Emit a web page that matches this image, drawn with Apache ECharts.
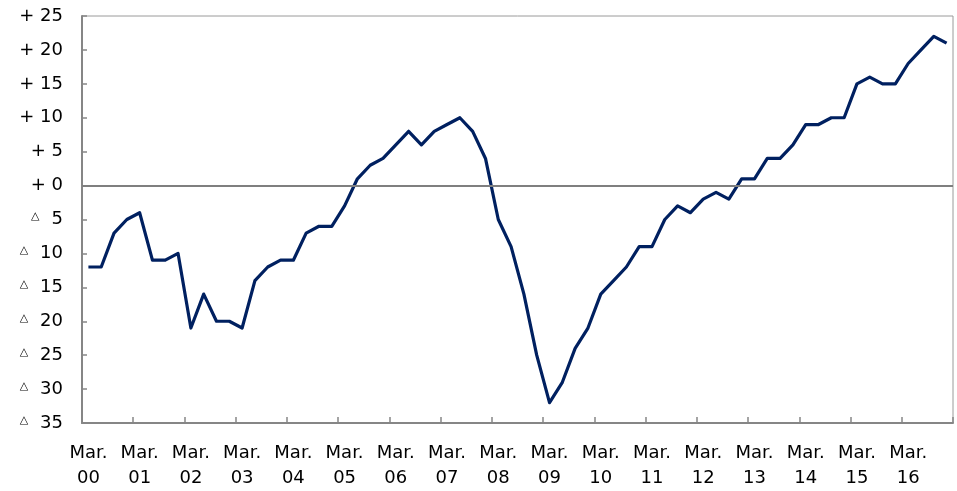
<!DOCTYPE html>
<html>
<head>
<meta charset="utf-8">
<script src="https://cdn.jsdelivr.net/npm/echarts@6/dist/echarts.min.js"></script>
<style>
  html, body { margin: 0; padding: 0; background: #fff; }
  #chart { width: 957px; height: 491px; }
</style>
</head>
<body>
<div id="chart"></div>
<script>
// Quarterly index (Mar. 2000 – Dec. 2016), year-on-year balance
const years = ['00','01','02','03','04','05','06','07','08','09','10','11','12','13','14','15','16'];
const quarterNames = ['Mar.', 'Jun.', 'Sep.', 'Dec.'];
const values = [
  -12, -12, -7, -5,   -4, -11, -11, -10,  -21, -16, -20, -20,  -21, -14, -12, -11,
  -11, -7, -6, -6,    -3, 1, 3, 4,        6, 8, 6, 8,          9, 10, 8, 4,
  -5, -9, -16, -25,   -32, -29, -24, -21, -16, -14, -12, -9,   -9, -5, -3, -4,
  -2, -1, -2, 1,      1, 4, 4, 6,         9, 9, 10, 10,        15, 16, 15, 15,
  18, 20, 22, 21
];
const yMin = -35, yMax = 25, yStep = 5;
const baseline = 0;

const categories = [];
years.forEach(y => quarterNames.forEach(q => categories.push(q + '\n' + y)));

const grey = '#868686';
const font = 'DejaVu Sans';

const chart = echarts.init(document.getElementById('chart'));
chart.setOption({
  animation: false,
  backgroundColor: '#ffffff',
  grid: {
    left: 82, right: 4, top: 16, bottom: 60,
    show: true, borderColor: '#9a9a9a', borderWidth: 1, containLabel: false
  },
  xAxis: {
    type: 'category',
    data: categories,
    boundaryGap: true,
    axisLine: { onZero: false, lineStyle: { color: grey, width: 2 } },
    axisTick: { show: true, inside: true, length: 6, interval: 3, alignWithLabel: false,
                lineStyle: { color: grey, width: 1.5 } },
    axisLabel: { interval: 3, margin: 18, color: '#000', fontFamily: font, fontSize: 18, lineHeight: 25 },
    splitLine: { show: false }
  },
  yAxis: {
    type: 'value',
    min: yMin, max: yMax, interval: yStep,
    axisLine: { show: true, lineStyle: { color: grey, width: 2 } },
    axisTick: { show: true, inside: true, length: 5, lineStyle: { color: grey, width: 1.5 } },
    splitLine: { show: false },
    axisLabel: {
      margin: 19, color: '#000', fontFamily: font, fontSize: 18,
      formatter: v => v >= 0 ? '+ ' + v : '{t|△}' + (-v),
      rich: {
        t: { fontFamily: font, fontSize: 11, color: '#000', padding: [0, 12, 6, 0] }
      }
    }
  },
  series: [{
    type: 'line',
    data: values,
    symbol: 'none',
    smooth: false,
    lineStyle: { color: '#002060', width: 3.2, join: 'round' },
    markLine: {
      silent: true,
      symbol: ['none', 'none'],
      label: { show: false },
      lineStyle: { color: '#7f7f7f', width: 2, type: 'solid' },
      data: [{ yAxis: baseline }]
    },
    z: 3
  }]
});
</script>
</body>
</html>
